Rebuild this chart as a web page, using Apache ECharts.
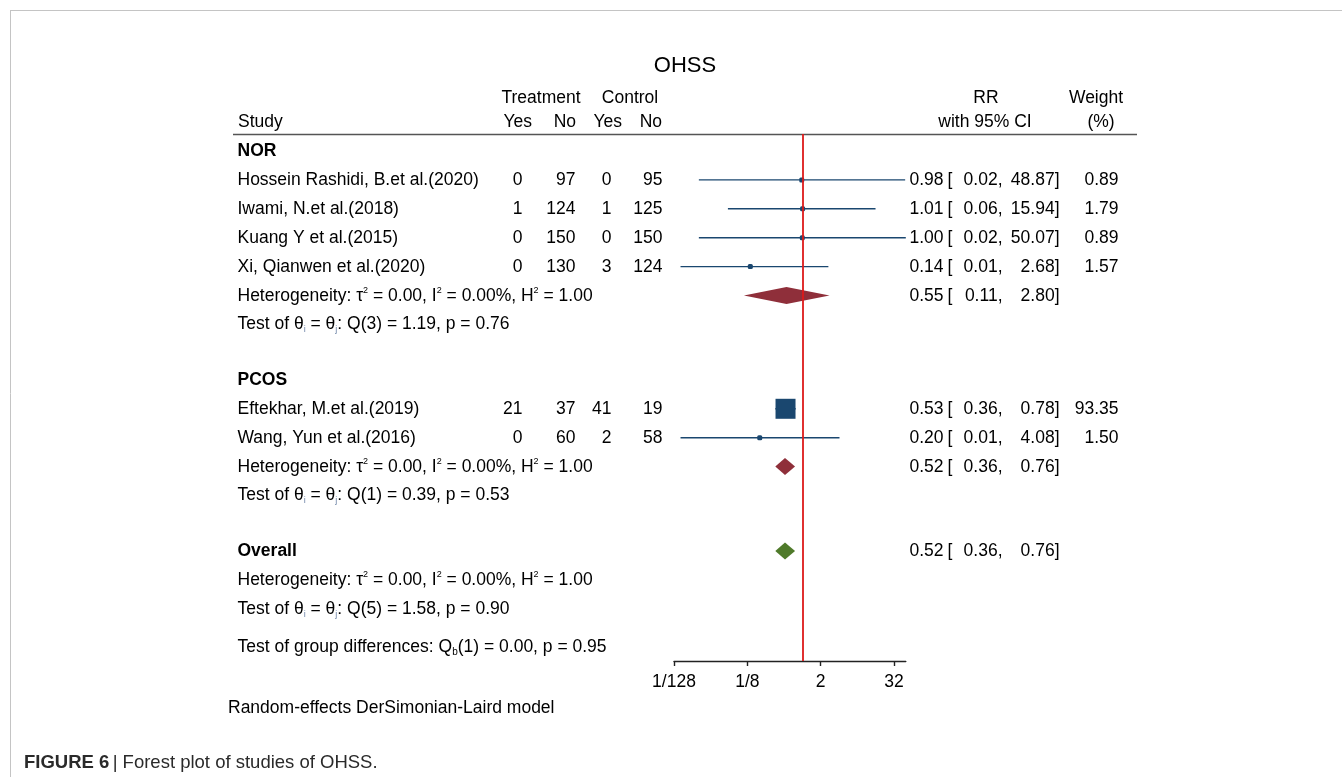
<!DOCTYPE html>
<html>
<head>
<meta charset="utf-8">
<script src="https://cdn.jsdelivr.net/npm/echarts@6/dist/echarts.min.js"></script>
<style>
  html, body { margin: 0; padding: 0; background: #fff; }
  #chart { width: 1342px; height: 777px; }
</style>
</head>
<body>
<div id="chart"></div>
<script>
// ---- Study data ----
const studies   = ['Hossein Rashidi, B.et al.(2020)', 'Iwami, N.et al.(2018)', 'Kuang Y et al.(2015)',
                   'Xi, Qianwen et al.(2020)', 'Eftekhar, M.et al.(2019)', 'Wang, Yun et al.(2016)'];
const studyGroup = ['NOR', 'NOR', 'NOR', 'NOR', 'PCOS', 'PCOS'];
const treatYes  = [0, 1, 0, 0, 21, 0];
const treatNo   = [97, 124, 150, 130, 37, 60];
const ctrlYes   = [0, 1, 0, 3, 41, 2];
const ctrlNo    = [95, 125, 150, 124, 19, 58];
const rr        = [0.98, 1.01, 1.00, 0.14, 0.53, 0.20];
const rrLow     = [0.02, 0.06, 0.02, 0.01, 0.36, 0.01];
const rrHigh    = [48.87, 15.94, 50.07, 2.68, 0.78, 4.08];
const weight    = [0.89, 1.79, 0.89, 1.57, 93.35, 1.50];

// ---- Subgroup summaries ----
const groups     = ['NOR', 'PCOS'];
const groupRR    = [0.55, 0.52];
const groupLow   = [0.11, 0.36];
const groupHigh  = [2.80, 0.76];
const groupTau2  = ['0.00', '0.00'];
const groupI2    = ['0.00', '0.00'];
const groupH2    = ['1.00', '1.00'];
const groupQdf   = [3, 1];
const groupQ     = ['1.19', '0.39'];
const groupP     = ['0.76', '0.53'];

// ---- Overall summary ----
const overallRR   = 0.52;
const overallLow  = 0.36;
const overallHigh = 0.76;
const overallHet  = { tau2: '0.00', i2: '0.00', h2: '1.00', df: 5, q: '1.58', p: '0.90' };
const groupDiff   = { df: 1, q: '0.00', p: '0.95' };

// ---- Axis ticks (RR on a log2 scale) ----
const tickValues = [1 / 128, 1 / 8, 2, 32];
const tickLabels = ['1/128', '1/8', '2', '32'];

// ---------------------------------------------------------------
const FONT = '"Liberation Sans", Arial, Helvetica, sans-serif';
const FS = 17.5;
const TXT = '#000';
const NAVY = '#1a476f';
const log2 = v => Math.log2(v);
const f2 = v => v.toFixed(2);

// Row layout: a header row per subgroup, one row per study, then heterogeneity and test rows
const SPACER = 0.92;       // blank gap between blocks, in rows
const rowOf = {};
const groupRow = {};
let r = 0;
groups.forEach(g => {
  groupRow[g] = { header: r++ };
  studies.forEach((s, i) => { if (studyGroup[i] === g) rowOf[i] = r++; });
  groupRow[g].summary = r++;
  groupRow[g].test = r;
  r += 1 + SPACER;
});
const overallRow = r++;
const overallHetRow = r++;
const overallTestRow = r;
const diffRow = r + 1.31;

// Column anchors in the text grid (pixel units)
const COL = {
  study: 237, tYes: 523, tNo: 576, cYes: 612, cNo: 663,
  est: 944, bracket: 947, low: 1003, high: 1060, weight: 1119
};

const hetText = (t, i, h) => `Heterogeneity: τ{sup|2} = ${t}, I{sup|2} = ${i}%, H{sup|2} = ${h}`;
const testText = (df, q, p) => `Test of θ{sub|i} = θ{sub|j}: Q(${df}) = ${q}, p = ${p}`;

// Text items: [x, row, text]
const leftItems = [], rightItems = [], boldItems = [];
groups.forEach((g, gi) => {
  boldItems.push([COL.study, groupRow[g].header, g]);
  leftItems.push([COL.study, groupRow[g].summary, hetText(groupTau2[gi], groupI2[gi], groupH2[gi])]);
  leftItems.push([COL.study, groupRow[g].test, testText(groupQdf[gi], groupQ[gi], groupP[gi])]);
});
studies.forEach((s, i) => {
  const y = rowOf[i];
  leftItems.push([COL.study, y, s]);
  rightItems.push([COL.tYes, y, String(treatYes[i])]);
  rightItems.push([COL.tNo, y, String(treatNo[i])]);
  rightItems.push([COL.cYes, y, String(ctrlYes[i])]);
  rightItems.push([COL.cNo, y, String(ctrlNo[i])]);
  rightItems.push([COL.est, y, f2(rr[i])]);
  leftItems.push([COL.bracket, y, '[']);
  rightItems.push([COL.low, y, f2(rrLow[i]) + ',']);
  rightItems.push([COL.high, y, f2(rrHigh[i]) + ']']);
  rightItems.push([COL.weight, y, f2(weight[i])]);
});
function pushCI(y, est, lo, hi) {
  rightItems.push([COL.est, y, f2(est)]);
  leftItems.push([COL.bracket, y, '[']);
  rightItems.push([COL.low, y, f2(lo) + ',']);
  rightItems.push([COL.high, y, f2(hi) + ']']);
}
groups.forEach((g, gi) => pushCI(groupRow[g].summary, groupRR[gi], groupLow[gi], groupHigh[gi]));
pushCI(overallRow, overallRR, overallLow, overallHigh);
boldItems.push([COL.study, overallRow, 'Overall']);
leftItems.push([COL.study, overallHetRow, hetText(overallHet.tau2, overallHet.i2, overallHet.h2)]);
leftItems.push([COL.study, overallTestRow, testText(overallHet.df, overallHet.q, overallHet.p)]);
leftItems.push([COL.study, diffRow, `Test of group differences: Q{subb|b}(${groupDiff.df}) = ${groupDiff.q}, p = ${groupDiff.p}`]);

// Marks for the forest panel
const studyMarks = studies.map((s, i) => [log2(rrLow[i]), log2(rrHigh[i]), log2(rr[i]), rowOf[i], weight[i]]);
const diamondMarks = groups.map((g, gi) => [log2(groupLow[gi]), log2(groupHigh[gi]), log2(groupRR[gi]), groupRow[g].summary, 0]);
diamondMarks.push([log2(overallLow), log2(overallHigh), log2(overallRR), overallRow, 1]);
const diamondColors = ['#8f2f3a', '#4f7a2a'];

// Vertical layout shared by both grids (first row at y=151, 28.9px per row)
const H = 777;
const ROW_PX = 28.9;
const FIRST_ROW_Y = 151;
const GRID_TOP = 134, AXIS_Y = 661;
const Y_MIN = -(FIRST_ROW_Y - GRID_TOP) / ROW_PX;
const Y_MAX = (AXIS_Y - FIRST_ROW_Y) / ROW_PX;
const GRID_BOTTOM = H - AXIS_Y;
const GRID_H = AXIS_Y - GRID_TOP;
const X_MIN = log2(tickValues[0]);
const X_MAX = log2(Math.max(...rrHigh));
const PX_PER_UNIT = 18.33;
const PLOT_LEFT = 674;
const PLOT_RIGHT = 1342 - (PLOT_LEFT + (X_MAX - X_MIN) * PX_PER_UNIT);

// keep text on whole pixels so it renders crisply
const snapOffset = row => {
  const py = GRID_TOP + (row - Y_MIN) / (Y_MAX - Y_MIN) * GRID_H;
  return Math.round(py) - py;
};

const richStyles = {
  sup:  { fontSize: 9, fontFamily: FONT, color: TXT, verticalAlign: 'top', lineHeight: 9 },
  sub:  { fontSize: 9, fontFamily: FONT, color: '#6f86a8', verticalAlign: 'bottom', lineHeight: 9 },
  subb: { fontSize: 10, fontFamily: FONT, color: TXT, verticalAlign: 'bottom', lineHeight: 10 }
};

function textSeries(data, position, weightStyle) {
  return {
    type: 'scatter', xAxisIndex: 1, yAxisIndex: 1, silent: true,
    symbolSize: 1, itemStyle: { color: 'rgba(0,0,0,0)' },
    emphasis: { disabled: true },
    data: data.map(d => ({ value: [d[0], d[1]], name: d[2], label: { offset: [0, snapOffset(d[1])] } })),
    label: {
      show: true, position: position, distance: 0,
      formatter: p => p.name,
      fontSize: FS, fontFamily: FONT, color: TXT, fontWeight: weightStyle || 'normal',
      opacity: 1, textBorderWidth: 0,
      lineHeight: 20,
      rich: richStyles
    }
  };
}

const chart = echarts.init(document.getElementById('chart'), null, { renderer: 'canvas' });

const headerText = (text, x, y, align, extra) => ({
  type: 'text', silent: true,
  style: Object.assign({ text, x, y, textAlign: align, textVerticalAlign: 'middle',
    fill: TXT, font: `${FS}px ${FONT}` }, extra || {})
});

chart.setOption({
  animation: false,
  backgroundColor: '#fff',
  grid: [
    { left: PLOT_LEFT, right: PLOT_RIGHT, top: GRID_TOP, bottom: GRID_BOTTOM, containLabel: false, outerBoundsMode: 'none' },
    { left: 0, right: 0, top: GRID_TOP, bottom: GRID_BOTTOM, containLabel: false, outerBoundsMode: 'none' }
  ],
  xAxis: [
    {
      type: 'value', gridIndex: 0, min: X_MIN, max: X_MAX, position: 'bottom',
      axisLine: { show: true, onZero: false, lineStyle: { color: '#222', width: 1.4 } },
      axisTick: { show: true, length: 5, inside: false, lineStyle: { color: '#222', width: 1.4 },
                  customValues: tickValues.map(log2) },
      axisLabel: { show: true, margin: 12, fontSize: FS, fontFamily: FONT, color: TXT,
                   customValues: tickValues.map(log2),
                   formatter: v => tickLabels[tickValues.findIndex(t => Math.abs(log2(t) - v) < 1e-6)] || '' },
      splitLine: { show: false }
    },
    { type: 'value', gridIndex: 1, min: 0, max: 1342, show: false }
  ],
  yAxis: [
    { type: 'value', gridIndex: 0, min: Y_MIN, max: Y_MAX, inverse: true, show: false },
    { type: 'value', gridIndex: 1, min: Y_MIN, max: Y_MAX, inverse: true, show: false }
  ],
  graphic: [
    // figure frame
    { type: 'line', silent: true, shape: { x1: 10, y1: 10.5, x2: 1342, y2: 10.5 }, style: { stroke: '#c4c4c4', lineWidth: 1 } },
    { type: 'line', silent: true, shape: { x1: 10.5, y1: 10, x2: 10.5, y2: 777 }, style: { stroke: '#c4c4c4', lineWidth: 1 } },
    // title
    headerText('OHSS', 685, 66, 'center', { font: `22px ${FONT}` }),
    // column headers
    headerText('Treatment', 541, 98, 'center'),
    headerText('Control', 630, 98, 'center'),
    headerText('Study', 238, 122, 'left'),
    headerText('Yes', 532, 122, 'right'),
    headerText('No', 576, 122, 'right'),
    headerText('Yes', 622, 122, 'right'),
    headerText('No', 662, 122, 'right'),
    headerText('RR', 986, 98, 'center'),
    headerText('with 95% CI', 985, 122, 'center'),
    headerText('Weight', 1096, 98, 'center'),
    headerText('(%)', 1101, 122, 'center'),
    // rule under the header
    { type: 'line', silent: true, shape: { x1: 233, y1: 134.5, x2: 1137, y2: 134.5 }, style: { stroke: '#555', lineWidth: 1.6 } },
    // model note and caption
    headerText('Random-effects DerSimonian-Laird model', 228, 708, 'left'),
    {
      type: 'text', silent: true,
      style: {
        x: 24, y: 763, textVerticalAlign: 'middle',
        text: '{b|FIGURE 6} {n|| Forest plot of studies of OHSS.}',
        rich: {
          b: { fontSize: 18.5, fontWeight: 'bold', fontFamily: FONT, fill: '#2a2a2a' },
          n: { fontSize: 18.5, fontFamily: FONT, fill: '#2a2a2a' }
        }
      }
    }
  ],
  series: [
    // confidence intervals and weighted study markers
    {
      type: 'custom', xAxisIndex: 0, yAxisIndex: 0, silent: true,
      encode: { x: [0, 1, 2], y: 3 },
      data: studyMarks,
      renderItem: (params, api) => {
        const y = api.value(3);
        const a = api.coord([api.value(0), y]);
        const b = api.coord([api.value(1), y]);
        const c = api.coord([api.value(2), y]);
        const s = Math.max(5, 2.07 * Math.sqrt(api.value(4)));
        return {
          type: 'group',
          children: [
            { type: 'line', shape: { x1: a[0], y1: a[1], x2: b[0], y2: b[1] }, style: { stroke: NAVY, lineWidth: 1.4 } },
            { type: 'rect', shape: { x: c[0] - s / 2, y: c[1] - s / 2, width: s, height: s, r: s < 6 ? 1.5 : 0 }, style: { fill: NAVY } }
          ]
        };
      },
      markLine: {
        silent: true, symbol: 'none', animation: false,
        label: { show: false },
        lineStyle: { color: '#dd1a1a', width: 1.8, type: 'solid' },
        data: [{ xAxis: 0 }]
      }
    },
    // pooled estimates as diamonds
    {
      type: 'custom', xAxisIndex: 0, yAxisIndex: 0, silent: true,
      encode: { x: [0, 1, 2], y: 3 },
      data: diamondMarks,
      renderItem: (params, api) => {
        const y = api.value(3);
        const a = api.coord([api.value(0), y]);
        const b = api.coord([api.value(1), y]);
        const c = api.coord([api.value(2), y]);
        const h = 8.5;
        return {
          type: 'polygon',
          shape: { points: [[a[0], a[1]], [c[0], c[1] - h], [b[0], b[1]], [c[0], c[1] + h]] },
          style: { fill: diamondColors[api.value(4)] }
        };
      }
    },
    textSeries(leftItems, 'right'),
    textSeries(rightItems, 'left'),
    textSeries(boldItems, 'right', 'bold')
  ]
});
</script>
</body>
</html>
